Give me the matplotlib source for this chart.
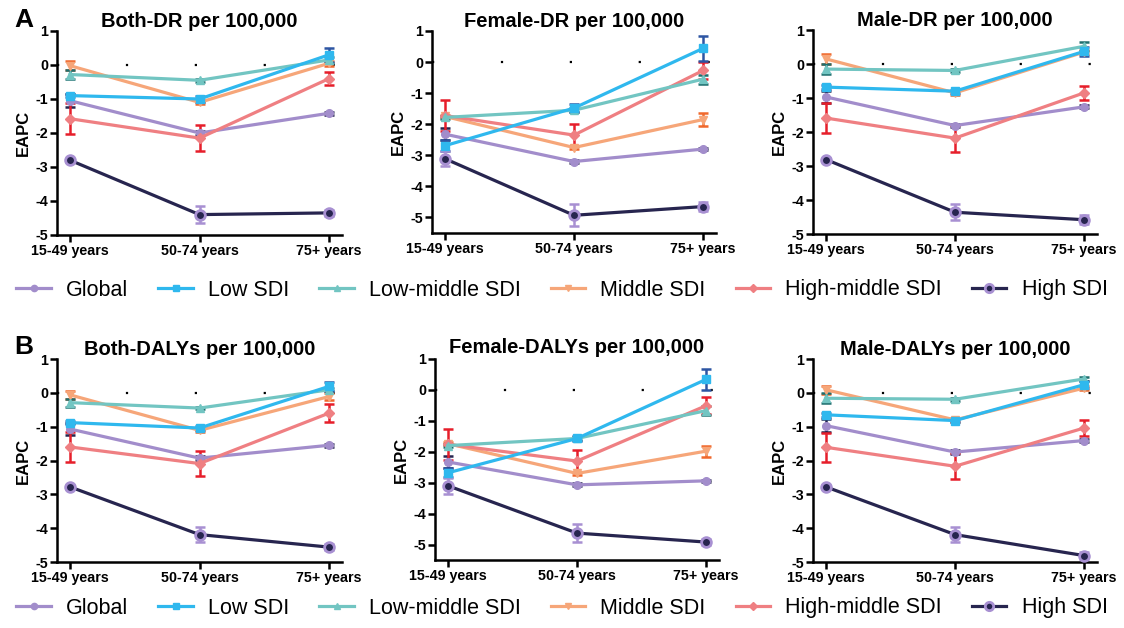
import matplotlib.pyplot as plt
import numpy as np

plt.rcParams['font.family'] = ['Liberation Sans', 'DejaVu Sans']
plt.rcParams['axes.unicode_minus'] = False

ages = ['15-49 years', '50-74 years', '75+ years']
groups = ['Global', 'Low SDI', 'Low-middle SDI', 'Middle SDI', 'High-middle SDI', 'High SDI']

# EAPC values, one dict per panel
both_dr = {'Global': [-1.05, -2.0, -1.42], 'Low SDI': [-0.9, -1.0, 0.3],
           'Low-middle SDI': [-0.28, -0.45, 0.15], 'Middle SDI': [-0.02, -1.1, 0.05],
           'High-middle SDI': [-1.58, -2.15, -0.4], 'High SDI': [-2.8, -4.4, -4.35]}
both_dr_err = {'Global': [0.19, 0.05, 0.04], 'Low SDI': [0.05, 0.08, 0.2],
               'Low-middle SDI': [0.12, 0.04, 0.1], 'Middle SDI': [0.13, 0.05, 0.08],
               'High-middle SDI': [0.45, 0.38, 0.2], 'High SDI': [0.05, 0.25, 0.1]}

female_dr = {'Global': [-2.32, -3.2, -2.8], 'Low SDI': [-2.69, -1.48, 0.44],
             'Low-middle SDI': [-1.78, -1.55, -0.55], 'Middle SDI': [-1.75, -2.75, -1.85],
             'High-middle SDI': [-1.72, -2.35, -0.27], 'High SDI': [-3.11, -4.93, -4.65]}
female_dr_err = {'Global': [0.2, 0.05, 0.04], 'Low SDI': [0.18, 0.12, 0.4],
                 'Low-middle SDI': [0.05, 0.06, 0.15], 'Middle SDI': [0.05, 0.05, 0.2],
                 'High-middle SDI': [0.5, 0.35, 0.28], 'High SDI': [0.25, 0.35, 0.15]}

male_dr = {'Global': [-0.97, -1.81, -1.26], 'Low SDI': [-0.68, -0.8, 0.37],
           'Low-middle SDI': [-0.15, -0.19, 0.52], 'Middle SDI': [0.15, -0.85, 0.35],
           'High-middle SDI': [-1.59, -2.18, -0.85], 'High SDI': [-2.81, -4.36, -4.58]}
male_dr_err = {'Global': [0.19, 0.05, 0.04], 'Low SDI': [0.06, 0.05, 0.13],
               'Low-middle SDI': [0.15, 0.04, 0.13], 'Middle SDI': [0.14, 0.05, 0.05],
               'High-middle SDI': [0.45, 0.4, 0.2], 'High SDI': [0.05, 0.24, 0.14]}

both_dalys = {'Global': [-1.07, -1.93, -1.55], 'Low SDI': [-0.88, -1.04, 0.19],
              'Low-middle SDI': [-0.29, -0.45, 0.09], 'Middle SDI': [-0.06, -1.11, -0.11],
              'High-middle SDI': [-1.6, -2.09, -0.6], 'High SDI': [-2.78, -4.19, -4.56]}
both_dalys_err = {'Global': [0.19, 0.05, 0.04], 'Low SDI': [0.05, 0.06, 0.13],
                  'Low-middle SDI': [0.12, 0.04, 0.05], 'Middle SDI': [0.12, 0.05, 0.1],
                  'High-middle SDI': [0.43, 0.36, 0.27], 'High SDI': [0.05, 0.21, 0.1]}

female_dalys = {'Global': [-2.33, -3.07, -2.94], 'Low SDI': [-2.68, -1.57, 0.34],
                'Low-middle SDI': [-1.8, -1.57, -0.67], 'Middle SDI': [-1.74, -2.7, -1.98],
                'High-middle SDI': [-1.76, -2.3, -0.51], 'High SDI': [-3.1, -4.63, -4.92]}
female_dalys_err = {'Global': [0.2, 0.05, 0.04], 'Low SDI': [0.15, 0.08, 0.33],
                    'Low-middle SDI': [0.05, 0.05, 0.14], 'Middle SDI': [0.05, 0.05, 0.18],
                    'High-middle SDI': [0.5, 0.35, 0.27], 'High SDI': [0.25, 0.28, 0.11]}

male_dalys = {'Global': [-0.97, -1.75, -1.41], 'Low SDI': [-0.65, -0.82, 0.24],
              'Low-middle SDI': [-0.16, -0.19, 0.41], 'Middle SDI': [0.09, -0.8, 0.14],
              'High-middle SDI': [-1.61, -2.17, -1.04], 'High SDI': [-2.78, -4.19, -4.81]}
male_dalys_err = {'Global': [0.19, 0.05, 0.04], 'Low SDI': [0.06, 0.05, 0.1],
                  'Low-middle SDI': [0.15, 0.04, 0.05], 'Middle SDI': [0.12, 0.05, 0.05],
                  'High-middle SDI': [0.43, 0.38, 0.25], 'High SDI': [0.05, 0.22, 0.11]}

line_col = {'Global': '#a28dcb', 'Low SDI': '#2fb8ee', 'Low-middle SDI': '#72c5c2',
            'Middle SDI': '#f6a679', 'High-middle SDI': '#ef7f82', 'High SDI': '#27254f'}
err_col = {'Global': '#27254f', 'Low SDI': '#2d55a3', 'Low-middle SDI': '#1f6e6e',
           'Middle SDI': '#f0682c', 'High-middle SDI': '#e61e2a', 'High SDI': '#a890d2'}
markers = {'Global': 'o', 'Low SDI': 's', 'Low-middle SDI': '^', 'Middle SDI': 'v',
           'High-middle SDI': 'D', 'High SDI': 'o'}
draw_order = ['Global', 'Middle SDI', 'High-middle SDI', 'Low-middle SDI', 'Low SDI', 'High SDI']

W, H = 1124, 628
panels = [
    ('Both-DR per 100,000', both_dr, both_dr_err, 70, 329, 31, 235, -5.0, 0),
    ('Female-DR per 100,000', female_dr, female_dr_err, 445, 703, 31, 233, -5.5, 0),
    ('Male-DR per 100,000', male_dr, male_dr_err, 826, 1084, 30, 234, -5.0, 0),
    ('Both-DALYs per 100,000', both_dalys, both_dalys_err, 70, 329, 359, 562, -5.0, 3),
    ('Female-DALYs per 100,000', female_dalys, female_dalys_err, 448, 706, 359, 560, -5.5, 4),
    ('Male-DALYs per 100,000', male_dalys, male_dalys_err, 826, 1084, 359, 562, -5.0, 3),
]


def series_style(g, ms):
    if g == 'High SDI':
        return dict(color=line_col[g], lw=2.3, marker='o', ms=ms + 1.5,
                    mfc=line_col[g], mec='#a890d2', mew=2)
    return dict(color=line_col[g], lw=2.3, marker=markers[g], ms=ms,
                mfc=line_col[g], mec=line_col[g])


fig = plt.figure(figsize=(W / 100, H / 100), dpi=100)
x = np.arange(len(ages))

for title, vals, errs, c0, c2, top, bot, ymin, tpad in panels:
    unit = (c2 - c0) / 2
    left = c0 - 0.1 * unit
    right = c2 + 0.1 * unit
    ax = fig.add_axes([left / W, 1 - bot / H, (right - left) / W, (bot - top) / H])
    ax.plot([-0.1, 2.1], [0, 0], color='black', lw=1.6, dashes=(1, 30), zorder=1)
    for g in draw_order:
        ax.errorbar(x, vals[g], yerr=errs[g], fmt='none', ecolor=err_col[g],
                    elinewidth=1.8, capsize=3.5, capthick=1.8, zorder=2)
        ax.plot(x, vals[g], zorder=4 if g == 'High SDI' else 3, **series_style(g, 5.5))
    ax.set_xlim(-0.1, 2.1)
    ax.set_ylim(ymin, 1)
    ax.set_yticks(np.arange(-5, 2, 1))
    ax.set_xticks(x)
    ax.set_xticklabels(ages, fontweight='bold', fontsize=10.3)
    for lab in ax.get_yticklabels():
        lab.set_fontweight('bold')
        lab.set_fontsize(10.3)
    ax.set_ylabel('EAPC', fontweight='bold', fontsize=12, labelpad=3)
    ax.set_title(title, fontweight='bold', fontsize=14.5, pad=tpad)
    for s in ['top', 'right']:
        ax.spines[s].set_visible(False)
    for s in ['left', 'bottom']:
        ax.spines[s].set_linewidth(1.8)
    ax.tick_params(width=1.8, length=5, pad=1.5)

fig.text(14 / W, 1 - 20 / H, 'A', fontsize=19, fontweight='bold', va='center')
fig.text(14 / W, 1 - 347 / H, 'B', fontsize=19, fontweight='bold', va='center')

handles = []
for g in groups:
    h, = plt.plot([], [], **series_style(g, 4.5))
    handles.append(h)

for ly in [290, 608]:
    fig.legend(handles, groups, loc='center', bbox_to_anchor=(0.5, 1 - ly / H), ncol=6,
               frameon=False, fontsize=15.5, handlelength=1.6, columnspacing=1.4,
               handletextpad=0.7)

fig.savefig('out.png', dpi=100)
